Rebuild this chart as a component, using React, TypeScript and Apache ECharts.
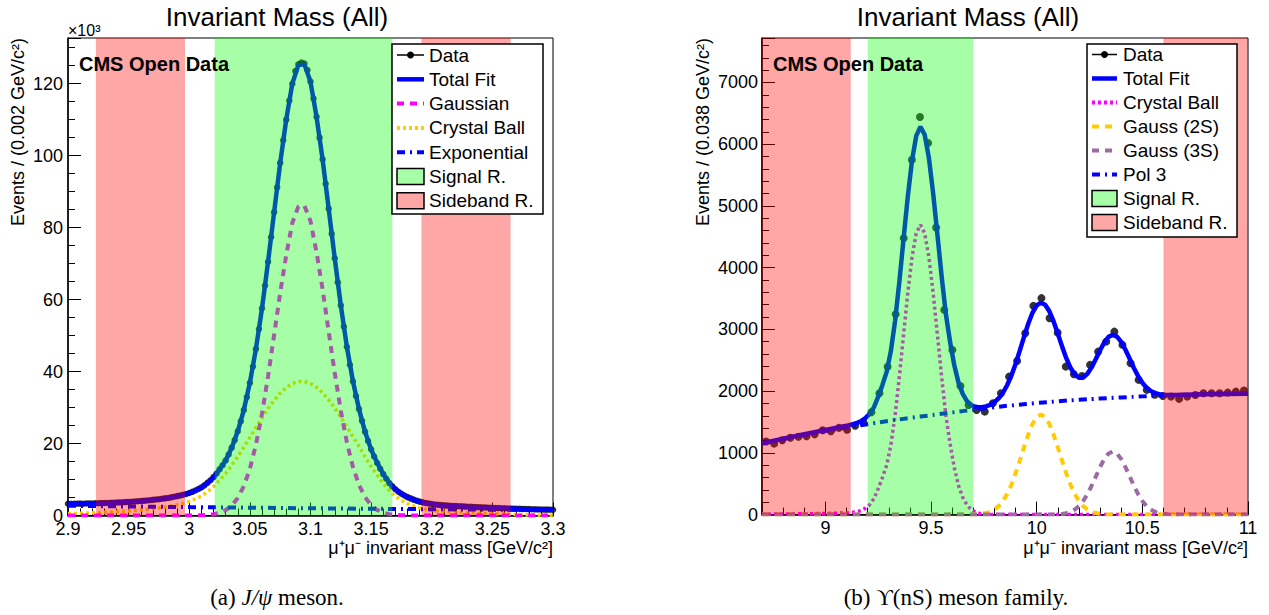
import React, { useEffect, useRef } from 'react';
import * as echarts from 'echarts';

const FONT = '"Liberation Sans", Arial, Helvetica, sans-serif';
const SERIF = '"Liberation Serif", "Times New Roman", serif';

// ---------------- J/psi (left) ----------------
const jpsiXRange = [2.9, 3.3];
const jpsiYMax = 132.7;
const jpsiDataStart = 2.9;
const jpsiDataStep = 0.0025;
const jpsiData = [
  3.25, 3.27, 3.24, 3.29, 3.30, 3.28, 3.33, 3.36, 3.35, 3.40,
  3.41, 3.43, 3.47, 3.48, 3.53, 3.55, 3.61, 3.63, 3.69, 3.72,
  3.77, 3.83, 3.90, 3.95, 4.03, 4.08, 4.16, 4.25, 4.35, 4.43,
  4.53, 4.64, 4.76, 4.88, 5.04, 5.20, 5.38, 5.55, 5.77, 5.98,
  6.25, 6.58, 6.96, 7.35, 7.80, 8.38, 9.07, 9.80, 10.65, 11.68,
  12.82, 13.98, 15.30, 16.95, 18.85, 20.95, 23.40, 26.20, 29.35, 32.90,
  36.90, 41.40, 46.30, 51.80, 57.60, 63.90, 70.50, 77.40, 84.30, 91.20,
  98.00, 104.3, 110.0, 115.3, 120.0, 123.5, 125.4, 125.9, 125.6, 123.8,
  120.6, 115.9, 110.8, 105.0, 99.0, 92.2, 85.3, 78.3, 71.5, 64.8,
  58.4, 52.5, 46.9, 41.9, 37.3, 33.2, 29.6, 26.3, 23.3, 20.7,
  18.4, 16.4, 14.6, 13.0, 11.5, 10.2, 9.0, 8.1, 7.3, 6.6,
  6.05, 5.55, 5.10, 4.75, 4.42, 4.12, 3.85, 3.65, 3.47, 3.32,
  3.19, 3.07, 2.98, 2.88, 2.82, 2.75, 2.71, 2.65, 2.62, 2.56,
  2.53, 2.47, 2.44, 2.39, 2.36, 2.31, 2.28, 2.24, 2.21, 2.15,
  2.12, 2.09, 2.06, 2.02, 2.00, 1.96, 1.94, 1.90, 1.88, 1.85,
  1.83, 1.79, 1.77, 1.74, 1.72, 1.69, 1.68, 1.65, 1.64, 1.62,
  1.61,
];
const jpsiCurveStart = 2.9;
const jpsiCurveStep = 0.005;
const jpsiTotal = [
  3.24, 3.26, 3.29, 3.32, 3.36, 3.40, 3.46, 3.51, 3.60, 3.68,
  3.76, 3.89, 4.02, 4.15, 4.34, 4.52, 4.75, 5.03, 5.37, 5.75,
  6.23,
  6.95, 7.77, 9.05, 10.62, 12.80, 15.28, 18.82, 23.39, 29.30, 36.87,
  46.30, 57.57, 70.52, 84.27, 97.97, 110.02, 120.01, 125.16, 125.37, 120.52,
  110.76, 98.90, 85.24, 71.45, 58.39, 46.90, 37.31, 29.57, 23.25, 18.35,
  14.61, 11.53, 9.11, 7.29, 6.07, 5.12, 4.43, 3.86, 3.47, 3.19,
  2.97, 2.81, 2.70, 2.61, 2.52, 2.43, 2.35, 2.27, 2.20, 2.11,
  2.05, 1.99, 1.93, 1.87, 1.82, 1.76, 1.71, 1.67, 1.63, 1.60,
];
const jpsiGauss = [
  0, 0, 0, 0, 0, 0, 0, 0, 0, 0,
  0, 0, 0, 0, 0, 0, 0, 0, 0, 0,
  0,
  0.03, 0.07, 0.17, 0.36, 0.75, 1.47, 2.75, 4.85, 8.15, 13.0,
  19.7, 28.3, 38.7, 50.2, 61.9, 72.4, 81.3, 85.9, 86.1, 81.8,
  73.1, 62.8, 51.1, 39.6, 29.1, 20.3, 13.5, 8.47, 5.07, 2.88,
  1.55, 0.79, 0.38, 0.17, 0.07, 0.03,
  0, 0, 0, 0, 0, 0, 0, 0, 0, 0, 0, 0,
  0, 0, 0, 0, 0, 0, 0, 0, 0, 0, 0, 0,
];
const jpsiCrystalBall = [
  0.54, 0.58, 0.63, 0.68, 0.74, 0.80, 0.88, 0.95, 1.05, 1.15,
  1.25, 1.40, 1.55, 1.70, 1.90, 2.10, 2.35, 2.65, 3.00, 3.40,
  3.90,
  4.60, 5.40, 6.60, 8.00, 9.80, 11.58, 13.86, 16.34, 18.97, 21.70,
  24.45, 27.14, 29.70, 31.97, 33.98, 35.55, 36.65, 37.22, 37.24, 36.71,
  35.66, 34.12, 32.17, 29.90, 27.35, 24.67, 21.90, 19.20, 16.30, 13.60,
  11.20, 8.90, 6.90, 5.30, 4.20, 3.30, 2.65, 2.10, 1.72, 1.45,
  1.25, 1.10, 1.00, 0.92, 0.85, 0.77, 0.70, 0.63, 0.57, 0.50,
  0.45, 0.40, 0.35, 0.30, 0.26, 0.22, 0.18, 0.15, 0.12, 0.10,
];
const jpsiExpX = [2.9, 2.95, 3.0, 3.05, 3.1, 3.15, 3.2, 3.25, 3.3];
const jpsiExp = [2.70, 2.51, 2.33, 2.17, 2.01, 1.87, 1.74, 1.61, 1.50];
const jpsiSignal = [[3.021, 3.1675]];
const jpsiSideband = [[2.923, 2.9965], [3.1915, 3.265]];

// ---------------- Upsilon (right) ----------------
const upsXRange = [8.7, 11.0];
const upsYMax = 7720;
const upsBinStart = 8.7;
const upsBinWidth = 2.3 / 60;
const upsData = [
  1185, 1150, 1205, 1245, 1262, 1270, 1300, 1365, 1350, 1405,
  1375, 1440, 1506, 1658, 1966, 2397, 3246, 4478, 5747, 6439,
  6018, 4650, 3316, 2668, 2084, 1776, 1695, 1668, 1804, 1966,
  2235, 2489, 2938, 3381, 3506, 3181, 2948, 2397, 2274, 2246,
  2425, 2640, 2802, 2964, 2749, 2452, 2182, 2020, 1940, 1922,
  1911, 1874, 1911, 1938, 1965, 1965, 1965, 1976, 1992, 2009,
];
const upsTotal = [
  1156, 1231, 1303, 1370, 1438, 1485,
  1514, 1565, 1630, 1741, 1911, 2101, 2312, 2652, 3140, 3773,
  4467, 5151, 5737, 6135, 6282, 6153, 5773, 5206, 4540, 3865,
  3251, 2801, 2419, 2138, 1956, 1839, 1774,
  1758, 1739, 1739, 1753, 1779, 1822, 1884, 1973, 2095, 2251,
  2441, 2656, 2879, 3092, 3269, 3388, 3433, 3399, 3293, 3129,
  2931, 2725, 2534, 2378, 2270, 2217, 2222, 2281, 2385, 2520,
  2663, 2790, 2879, 2912, 2883, 2798, 2671, 2524, 2375, 2243,
  2136, 2056, 2002, 1968, 1949, 1940, 1936, 1936, 1937,
  1941, 1950, 1955, 1958,
];
const upsCrystalBallPeak = [
  26, 30, 37, 47, 65, 105, 160, 260, 420, 600,
  800, 1130, 1609, 2232, 2916, 3591, 4167, 4556, 4694, 4556,
  4167, 3591, 2916, 2232, 1609, 1150, 760, 470, 280, 155,
  80, 40, 18, 8, 3, 1, 0,
];
const upsCrystalBallTail = [6, 9, 13, 18, 22];
const ups2S = [
  1, 3, 6, 13, 25, 46, 82, 137, 219, 334, 483, 666, 874, 1091, 1297, 1468, 1580, 1620,
  1580, 1468, 1297, 1091, 874, 666, 483, 334, 219, 137, 82, 46, 25, 13, 6, 3, 1,
];
const ups3S = [
  1, 2, 5, 11, 23, 45, 81, 138, 221, 331, 467, 619, 770, 900, 989, 1020,
  989, 900, 770, 619, 467, 331, 221, 138, 81, 45, 23, 11, 5, 2, 1,
];
const upsPol3 = [
  1150, 1222, 1290, 1352, 1410, 1465, 1517, 1565, 1610, 1655, 1697, 1740,
  1775, 1808, 1835, 1860, 1880, 1898, 1915, 1929, 1941, 1950, 1955, 1958,
];
const upsSignal = [[9.2, 9.7]];
const upsSideband = [[8.7, 9.12], [10.6, 11.0]];

// ---------------- helpers ----------------
const steps = (start: number, step: number, n: number) =>
  Array.from({ length: n }, (_, i) => +(start + step * i).toFixed(5));
const pairs = (xs: number[], ys: number[]) => ys.map((y, i) => [xs[i], y]);

const jpsiCurveX = steps(jpsiCurveStart, jpsiCurveStep, jpsiTotal.length);
const jpsiDataX = steps(jpsiDataStart, jpsiDataStep, jpsiData.length);
const upsDataX = upsData.map((_, i) => +(upsBinStart + upsBinWidth * (i + 0.5)).toFixed(5));
const upsTotalX = [8.7, 8.8, 8.9, 9.0, 9.1, 9.15, ...steps(9.17, 0.02, 27), ...steps(9.7, 0.02, 49), 10.7, 10.8, 10.9, 11.0];
const upsCbX = [8.7, 8.8, 8.9, 9.0, 9.05, ...steps(9.09, 0.02, 37), 9.9, 10.0, 11.0];
const upsCbY = [...upsCrystalBallTail, ...upsCrystalBallPeak, 0, 0, 0];
const ups2SX = [8.7, 9.6, ...steps(9.68, 0.02, 35), 10.5, 11.0];
const ups2SY = [0, 0, ...ups2S, 0, 0];
const ups3SX = [8.7, 10.0, ...steps(10.06, 0.02, 31), 10.8, 11.0];
const ups3SY = [0, 0, ...ups3S, 0, 0];
const upsPol3X = steps(8.7, 0.1, upsPol3.length);

const BLUE = '#0000ff';
const MAGENTA = '#ff00ff';
const YELLOW = '#ffcc00';
const PURPLE = '#9c6ba3';
const GREEN_OVER = 'rgba(0,255,0,0.35)';
const RED_OVER = 'rgba(255,0,0,0.35)';
const GREEN_BOX = 'rgb(166,255,166)';
const RED_BOX = 'rgb(255,166,166)';

const DASH = [7, 6];
const DOT = [3, 3];
const DASHDOT = [8, 5, 2, 5];

const lineSeries = (name: string, idx: number, data: number[][], color: string, width: number, dash: any, z: number) => ({
  name,
  type: 'line',
  xAxisIndex: idx,
  yAxisIndex: idx,
  data,
  symbol: 'none',
  showSymbol: false,
  silent: true,
  z,
  lineStyle: { color, width, type: dash },
  itemStyle: { color },
});

const scatterSeries = (idx: number, data: number[][], size: number) => ({
  name: 'Data',
  type: 'scatter',
  xAxisIndex: idx,
  yAxisIndex: idx,
  data,
  symbol: 'circle',
  symbolSize: size,
  silent: true,
  z: 2,
  itemStyle: { color: '#000' },
});

const overlaySeries = (idx: number, regions: number[][], color: string) => ({
  type: 'custom',
  xAxisIndex: idx,
  yAxisIndex: idx,
  silent: true,
  z: 10,
  clip: false,
  encode: { x: [0, 1], y: 2 },
  data: regions.map((r) => [r[0], r[1], 0]),
  renderItem: (params: any, api: any) => {
    const cs = params.coordSys;
    const a = api.coord([api.value(0), 0]);
    const b = api.coord([api.value(1), 0]);
    return {
      type: 'rect',
      shape: { x: a[0], y: cs.y, width: b[0] - a[0], height: cs.height },
      style: { fill: color },
    };
  },
});

const numFmt = (v: number) => String(+(+v).toFixed(3));

const axisCommon = {
  type: 'value',
  axisLine: { show: true, onZero: false, lineStyle: { color: '#000', width: 1.5 } },
  axisTick: { show: true, inside: true, length: 13, lineStyle: { color: '#000', width: 1 } },
  minorTick: { show: true, length: 7, lineStyle: { color: '#000', width: 1 } },
  splitLine: { show: false },
  minorSplitLine: { show: false },
};

const labelStyle = { color: '#000', fontSize: 18, fontFamily: FONT, formatter: numFmt };

const text = (t: string, x: number, y: number, size: number, opts: any = {}) => ({
  type: 'text',
  x,
  y,
  z: 100,
  silent: true,
  rotation: opts.rotation || 0,
  style: {
    text: t,
    x: 0,
    y: 0,
    fill: '#000',
    fontSize: size,
    fontFamily: opts.family || FONT,
    fontWeight: opts.weight || 'normal',
    align: opts.align || 'left',
    verticalAlign: 'middle',
    rich: opts.rich,
  },
});

type Entry = { label: string; kind: 'data' | 'line' | 'box'; color?: string; width?: number; dash?: number[] };

const legend = (box: number[], symX: number[], textX: number, y0: number, step: number, entries: Entry[]) => {
  const els: any[] = [
    {
      type: 'rect',
      z: 100,
      silent: true,
      shape: { x: box[0], y: box[1], width: box[2] - box[0], height: box[3] - box[1] },
      style: { fill: '#fff', stroke: '#000', lineWidth: 1.5 },
    },
  ];
  entries.forEach((e, i) => {
    const y = y0 + step * i;
    if (e.kind === 'data') {
      els.push({ type: 'line', z: 101, silent: true, shape: { x1: symX[0], y1: y, x2: symX[1], y2: y }, style: { stroke: '#000', lineWidth: 1.5 } });
      els.push({ type: 'circle', z: 102, silent: true, shape: { cx: (symX[0] + symX[1]) / 2, cy: y, r: 3.5 }, style: { fill: '#000' } });
    } else if (e.kind === 'line') {
      els.push({
        type: 'line',
        z: 101,
        silent: true,
        shape: { x1: symX[0], y1: y, x2: symX[1], y2: y },
        style: { stroke: e.color, lineWidth: e.width, lineDash: e.dash || null },
      });
    } else {
      els.push({
        type: 'rect',
        z: 101,
        silent: true,
        shape: { x: symX[0], y: y - 8, width: symX[1] - symX[0], height: 16 },
        style: { fill: e.color, stroke: '#000', lineWidth: 1.5 },
      });
    }
    els.push(text(e.label, textX, y, 19));
  });
  return els;
};

function buildOption(): any {
  const graphics: any[] = [
    text('Invariant Mass (All)', 277, 17, 26, { align: 'center' }),
    text('Invariant Mass (All)', 968, 17, 26, { align: 'center' }),
    text('×10³', 68, 30, 16),
    text('CMS Open Data', 79, 64, 20, { weight: 'bold' }),
    text('CMS Open Data', 773, 64, 20, { weight: 'bold' }),
    text('Events / (0.002 GeV/c²)', 18, 38, 18, { rotation: Math.PI / 2, align: 'right' }),
    text('Events / (0.038 GeV/c²)', 703, 38, 18, { rotation: Math.PI / 2, align: 'right' }),
    text('μ⁺μ⁻ invariant mass [GeV/c²]', 553, 548, 18, { align: 'right' }),
    text('μ⁺μ⁻ invariant mass [GeV/c²]', 1248, 548, 18, { align: 'right' }),
    text('(a) {i|J/ψ} meson.', 277, 597, 23, {
      align: 'center',
      family: SERIF,
      rich: { i: { fontStyle: 'italic', fontSize: 23, fontFamily: SERIF, fill: '#000' } },
    }),
    text('(b) ϒ(nS) meson family.', 956, 597, 23, { align: 'center', family: SERIF }),
    ...legend([392, 44, 543, 214], [397, 424], 429, 55, 24.3, [
      { label: 'Data', kind: 'data' },
      { label: 'Total Fit', kind: 'line', color: BLUE, width: 4.5 },
      { label: 'Gaussian', kind: 'line', color: MAGENTA, width: 4, dash: DASH },
      { label: 'Crystal Ball', kind: 'line', color: YELLOW, width: 4, dash: DOT },
      { label: 'Exponential', kind: 'line', color: BLUE, width: 4, dash: DASHDOT },
      { label: 'Signal R.', kind: 'box', color: GREEN_BOX },
      { label: 'Sideband R.', kind: 'box', color: RED_BOX },
    ]),
    ...legend([1087, 44, 1237, 237], [1092, 1117], 1123, 54.5, 24, [
      { label: 'Data', kind: 'data' },
      { label: 'Total Fit', kind: 'line', color: BLUE, width: 4.5 },
      { label: 'Crystal Ball', kind: 'line', color: MAGENTA, width: 4, dash: DOT },
      { label: 'Gauss (2S)', kind: 'line', color: YELLOW, width: 4, dash: DASH },
      { label: 'Gauss (3S)', kind: 'line', color: PURPLE, width: 4, dash: DASH },
      { label: 'Pol 3', kind: 'line', color: BLUE, width: 4, dash: DASHDOT },
      { label: 'Signal R.', kind: 'box', color: GREEN_BOX },
      { label: 'Sideband R.', kind: 'box', color: RED_BOX },
    ]),
  ];

  return {
    animation: false,
    backgroundColor: '#fff',
    textStyle: { fontFamily: FONT },
    grid: [
      { left: 68, top: 38, width: 485, height: 477.5, show: true, borderColor: '#000', borderWidth: 1, backgroundColor: 'transparent' },
      { left: 762, top: 38, width: 486, height: 476.6, show: true, borderColor: '#000', borderWidth: 1, backgroundColor: 'transparent' },
    ],
    xAxis: [
      {
        ...axisCommon,
        gridIndex: 0,
        min: jpsiXRange[0],
        max: jpsiXRange[1],
        interval: 0.05,
        minorTick: { ...axisCommon.minorTick, splitNumber: 5 },
        axisLabel: { ...labelStyle, margin: 4 },
      },
      {
        ...axisCommon,
        gridIndex: 1,
        min: upsXRange[0],
        max: upsXRange[1],
        splitNumber: 5,
        minorTick: { ...axisCommon.minorTick, splitNumber: 5 },
        axisLabel: { ...labelStyle, margin: 4, showMinLabel: false },
      },
    ],
    yAxis: [
      {
        ...axisCommon,
        gridIndex: 0,
        min: 0,
        max: jpsiYMax,
        interval: 20,
        minorTick: { ...axisCommon.minorTick, splitNumber: 4 },
        axisLabel: { ...labelStyle, margin: 5, showMaxLabel: false },
      },
      {
        ...axisCommon,
        gridIndex: 1,
        min: 0,
        max: upsYMax,
        interval: 1000,
        minorTick: { ...axisCommon.minorTick, splitNumber: 5 },
        axisLabel: { ...labelStyle, margin: 4, showMaxLabel: false },
      },
    ],
    series: [
      scatterSeries(0, pairs(jpsiDataX, jpsiData), 6.5),
      lineSeries('Crystal Ball', 0, pairs(jpsiCurveX, jpsiCrystalBall), YELLOW, 3.5, DOT, 3),
      lineSeries('Gaussian', 0, pairs(jpsiCurveX, jpsiGauss), MAGENTA, 4, DASH, 3),
      lineSeries('Exponential', 0, pairs(jpsiExpX, jpsiExp), BLUE, 4, DASHDOT, 3),
      lineSeries('Total Fit', 0, pairs(jpsiCurveX, jpsiTotal), BLUE, 4.5, 'solid', 4),
      overlaySeries(0, jpsiSignal, GREEN_OVER),
      overlaySeries(0, jpsiSideband, RED_OVER),

      scatterSeries(1, pairs(upsDataX, upsData), 8),
      lineSeries('Crystal Ball', 1, pairs(upsCbX, upsCbY), MAGENTA, 3.5, DOT, 3),
      lineSeries('Gauss (2S)', 1, pairs(ups2SX, ups2SY), YELLOW, 4, DASH, 3),
      lineSeries('Gauss (3S)', 1, pairs(ups3SX, ups3SY), PURPLE, 4, DASH, 3),
      { ...lineSeries('Pol 3', 1, pairs(upsPol3X, upsPol3), BLUE, 4, DASHDOT, 3), smooth: true },
      lineSeries('Total Fit', 1, pairs(upsTotalX, upsTotal), BLUE, 4.5, 'solid', 4),
      overlaySeries(1, upsSignal, GREEN_OVER),
      overlaySeries(1, upsSideband, RED_OVER),
    ],
    graphic: { elements: graphics },
  };
}

export default function App() {
  const ref = useRef<HTMLDivElement>(null);
  useEffect(() => {
    if (!ref.current) return;
    const chart = echarts.init(ref.current, undefined, { renderer: 'svg' });
    chart.setOption(buildOption());
    return () => chart.dispose();
  }, []);
  return (
    <div
      ref={ref}
      style={{ position: 'fixed', left: 0, top: 0, width: 1269, height: 615, background: '#fff' }}
    />
  );
}
